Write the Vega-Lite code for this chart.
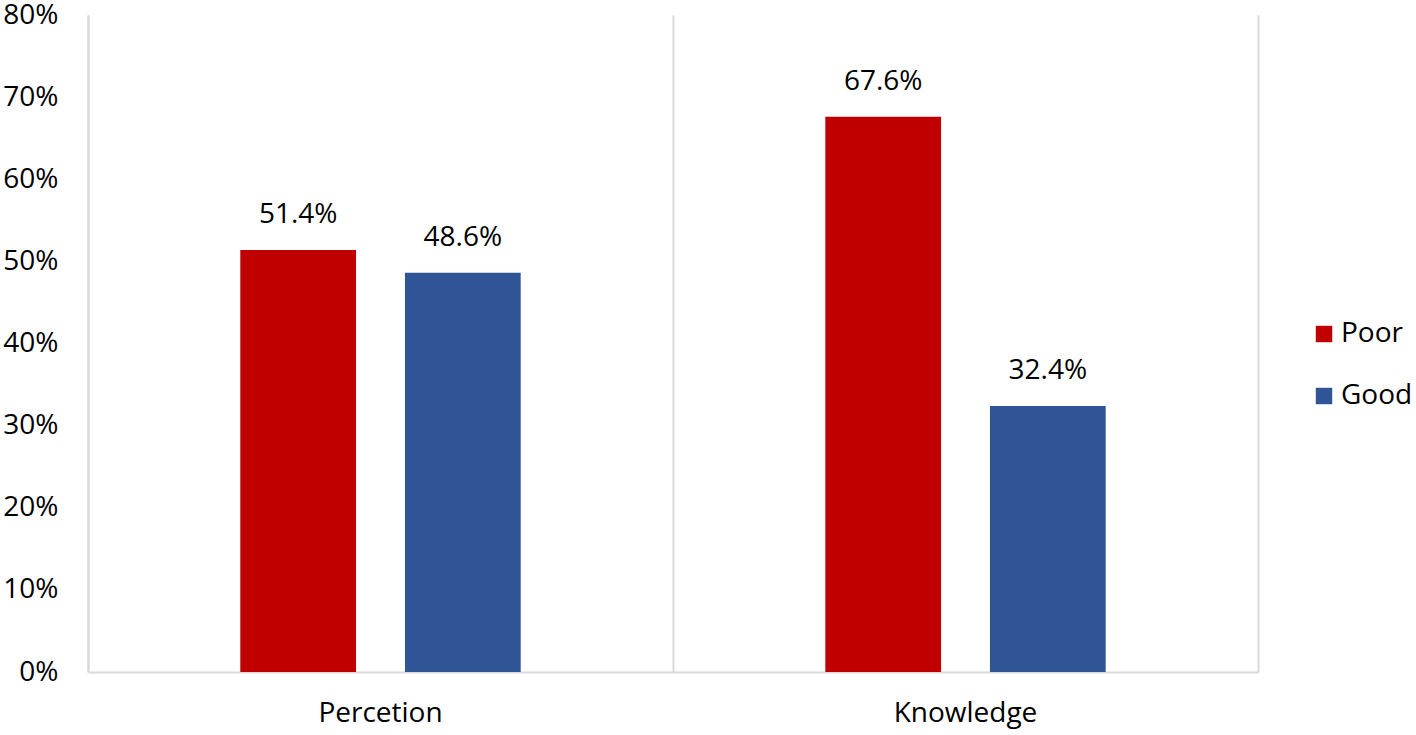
{
  "$schema": "https://vega.github.io/schema/vega-lite/v6.json",
  "autosize": {"type": "none"},
  "padding": {"left": 88, "top": 15, "right": 158, "bottom": 63},
  "width": 1170,
  "height": 657,
  "background": "white",
  "config": {
    "view": {"stroke": null},
    "font": "Open Sans",
    "text": {"font": "Open Sans"}
  },
  "data": {
    "values": [
      {"category": "Percetion", "group": "Poor", "value": 0.514},
      {"category": "Percetion", "group": "Good", "value": 0.486},
      {"category": "Knowledge", "group": "Poor", "value": 0.676},
      {"category": "Knowledge", "group": "Good", "value": 0.324}
    ]
  },
  "encoding": {
    "x": {
      "field": "category",
      "type": "nominal",
      "sort": ["Percetion", "Knowledge"],
      "scale": {"paddingInner": 0, "paddingOuter": 0},
      "axis": {
        "title": null,
        "labelAngle": 0,
        "ticks": false,
        "grid": true,
        "bandPosition": 0,
        "gridColor": "#D9D9D9",
        "gridWidth": 2,
        "domainColor": "#D9D9D9",
        "domainWidth": 2,
        "labelFont": "Open Sans",
        "labelFontSize": 28,
        "labelColor": "#000000",
        "labelPadding": 27
      }
    },
    "xOffset": {
      "field": "group",
      "type": "nominal",
      "sort": ["Poor", "Good"],
      "scale": {"paddingInner": 0.297, "paddingOuter": 0.925}
    },
    "y": {
      "field": "value",
      "type": "quantitative",
      "scale": {"domain": [0, 0.8], "nice": false}
    }
  },
  "layer": [
    {
      "mark": {"type": "bar"},
      "encoding": {
        "y": {
          "field": "value",
          "type": "quantitative",
          "scale": {"domain": [0, 0.8], "nice": false},
          "axis": {
            "title": null,
            "format": ".0%",
            "values": [0, 0.1, 0.2, 0.3, 0.4, 0.5, 0.6, 0.7, 0.8],
            "ticks": false,
            "grid": false,
            "domainColor": "#D9D9D9",
            "domainWidth": 2,
            "labelFont": "Open Sans",
            "labelFontSize": 28,
            "labelColor": "#000000",
            "labelPadding": 30
          }
        },
        "color": {
          "field": "group",
          "type": "nominal",
          "sort": ["Poor", "Good"],
          "scale": {"domain": ["Poor", "Good"], "range": ["#C00000", "#2F5597"]},
          "legend": {
            "title": null,
            "orient": "none",
            "legendX": 1222,
            "legendY": 305,
            "symbolType": "square",
            "symbolSize": 270,
            "symbolStrokeWidth": 0,
            "rowPadding": 34,
            "labelFont": "Open Sans",
            "labelFontSize": 28,
            "labelColor": "#000000",
            "labelOffset": 3
          }
        }
      }
    },
    {
      "mark": {"type": "text", "baseline": "bottom", "dy": -21, "fontSize": 28, "font": "Open Sans", "color": "#000000"},
      "encoding": {
        "y": {
          "field": "value",
          "type": "quantitative",
          "scale": {"domain": [0, 0.8], "nice": false},
          "axis": {
            "orient": "right",
            "title": null,
            "labels": false,
            "ticks": false,
            "grid": false,
            "domainColor": "#D9D9D9",
            "domainWidth": 2
          }
        },
        "text": {"field": "value", "type": "quantitative", "format": ".1%"}
      }
    }
  ],
  "resolve": {"axis": {"y": "independent"}}
}
